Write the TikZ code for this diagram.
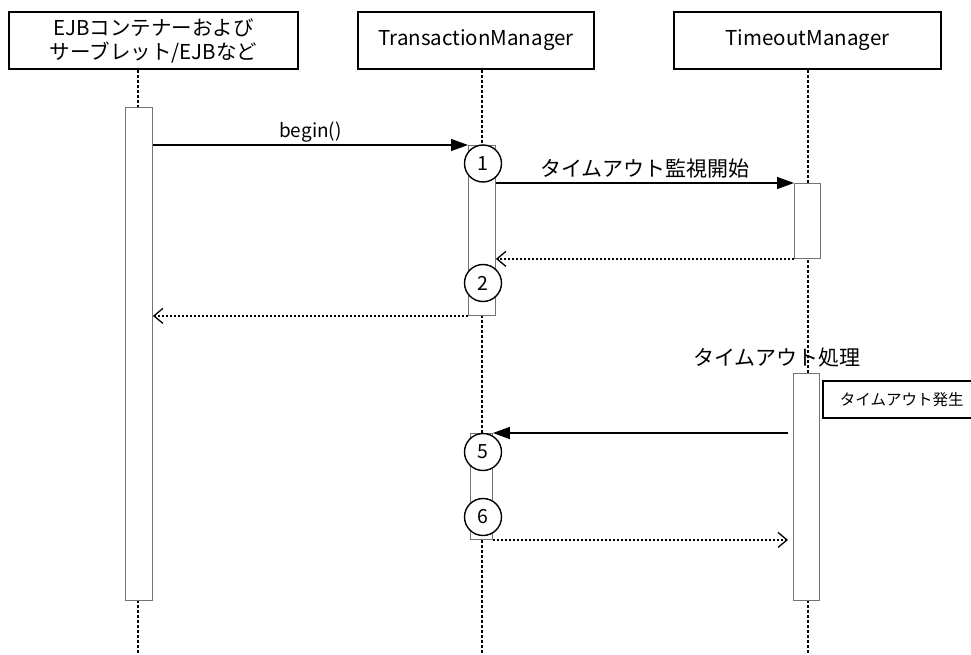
\documentclass[tikz,border=0pt]{standalone}
\usepackage{fontspec}
\setmainfont{Noto Sans CJK JP}
\usetikzlibrary{arrows.meta}
\begin{document}
\begin{tikzpicture}[x=1pt,y=-1pt,
  headbox/.style={draw, line width=1.6pt, fill=white, minimum height=57pt, inner sep=2pt, align=center, font=\fontsize{20.5}{24}\selectfont},
  lifeline/.style={line width=1.6pt, dash pattern=on 3pt off 2pt},
  actbox/.style={draw=black!55, fill=white, line width=0.9pt, inner sep=0pt, anchor=north west},
  numc/.style={circle, draw, line width=1.4pt, fill=white, minimum size=37pt, inner sep=0pt, font=\fontsize{19.5}{20}\selectfont},
  call/.style={-{Triangle[length=17pt,width=12pt]}, line width=1.4pt},
  ret/.style={-{Straight Barb[length=9pt,width=15pt,line width=1.3pt]}, line width=1.6pt, dash pattern=on 1.6pt off 2.4pt},
  lbl/.style={font=\fontsize{21}{24}\selectfont, inner sep=2pt}
]
\useasboundingbox (0,0) rectangle (971,655);
% headers
\node[headbox, minimum width=289pt] (h1) at (153.5,40.5) {EJBコンテナーおよび\\サーブレット/EJBなど};
\node[headbox, minimum width=236pt] (h2) at (476,40.5) {TransactionManager};
\node[headbox, minimum width=267pt] (h3) at (807.5,40.5) {TimeoutManager};
% lifelines
\coordinate (e1) at (138,655);
\coordinate (e2) at (482,655);
\coordinate (e3) at (808,655);
\draw[lifeline] (h1.south -| e1) -- (e1);
\draw[lifeline] (h2.south -| e2) -- (e2);
\draw[lifeline] (h3.south -| e3) -- (e3);
% activation boxes
\node[actbox, minimum width=27pt, minimum height=493pt] (a1) at (125,107) {};
\node[actbox, minimum width=27pt, minimum height=170pt] (a2) at (468,145) {};
\node[actbox, minimum width=26pt, minimum height=75pt] (a3) at (794,183) {};
\node[actbox, minimum width=26pt, minimum height=227pt] (a4) at (793,373) {};
\node[actbox, minimum width=22pt, minimum height=106pt] (a5) at (470,433) {};
% messages
\draw[call] (a1.east |- a2.north) -- (a2.north west) node[midway, above, lbl, font=\fontsize{19}{22}\selectfont] (m1) {begin()};
\draw[call] (a2.east |- a3.north) -- (a3.north west) node[midway, above, lbl, yshift=2pt] (m2) {タイムアウト監視開始};
\draw[ret] (a3.south west) -- (a2.east |- a3.south);
\draw[ret] (a2.south west) -- (a1.east |- a2.south);
\coordinate (t5) at ([xshift=-5pt]a4.west |- a5.north);
\coordinate (t6) at ([xshift=-5pt]a4.west |- a5.south);
\draw[call] (t5) -- (a5.north east);
\draw[ret] (a5.south east) -- (t6);
% numbered circles
\node[numc] (c1) at (483,163.5) {1};
\node[numc] (c2) at (483,283) {2};
\node[numc] (c5) at (483,452) {5};
\node[numc] (c6) at (483,517) {6};
% labels
\node[lbl] (p) at (777,358) {タイムアウト処理};
\node[draw, line width=1.6pt, fill=white, anchor=west, minimum width=158pt, minimum height=37pt, inner sep=2pt, font=\fontsize{15.5}{18}\selectfont] (n) at (822,399.5) {タイムアウト発生};
\end{tikzpicture}
\end{document}
